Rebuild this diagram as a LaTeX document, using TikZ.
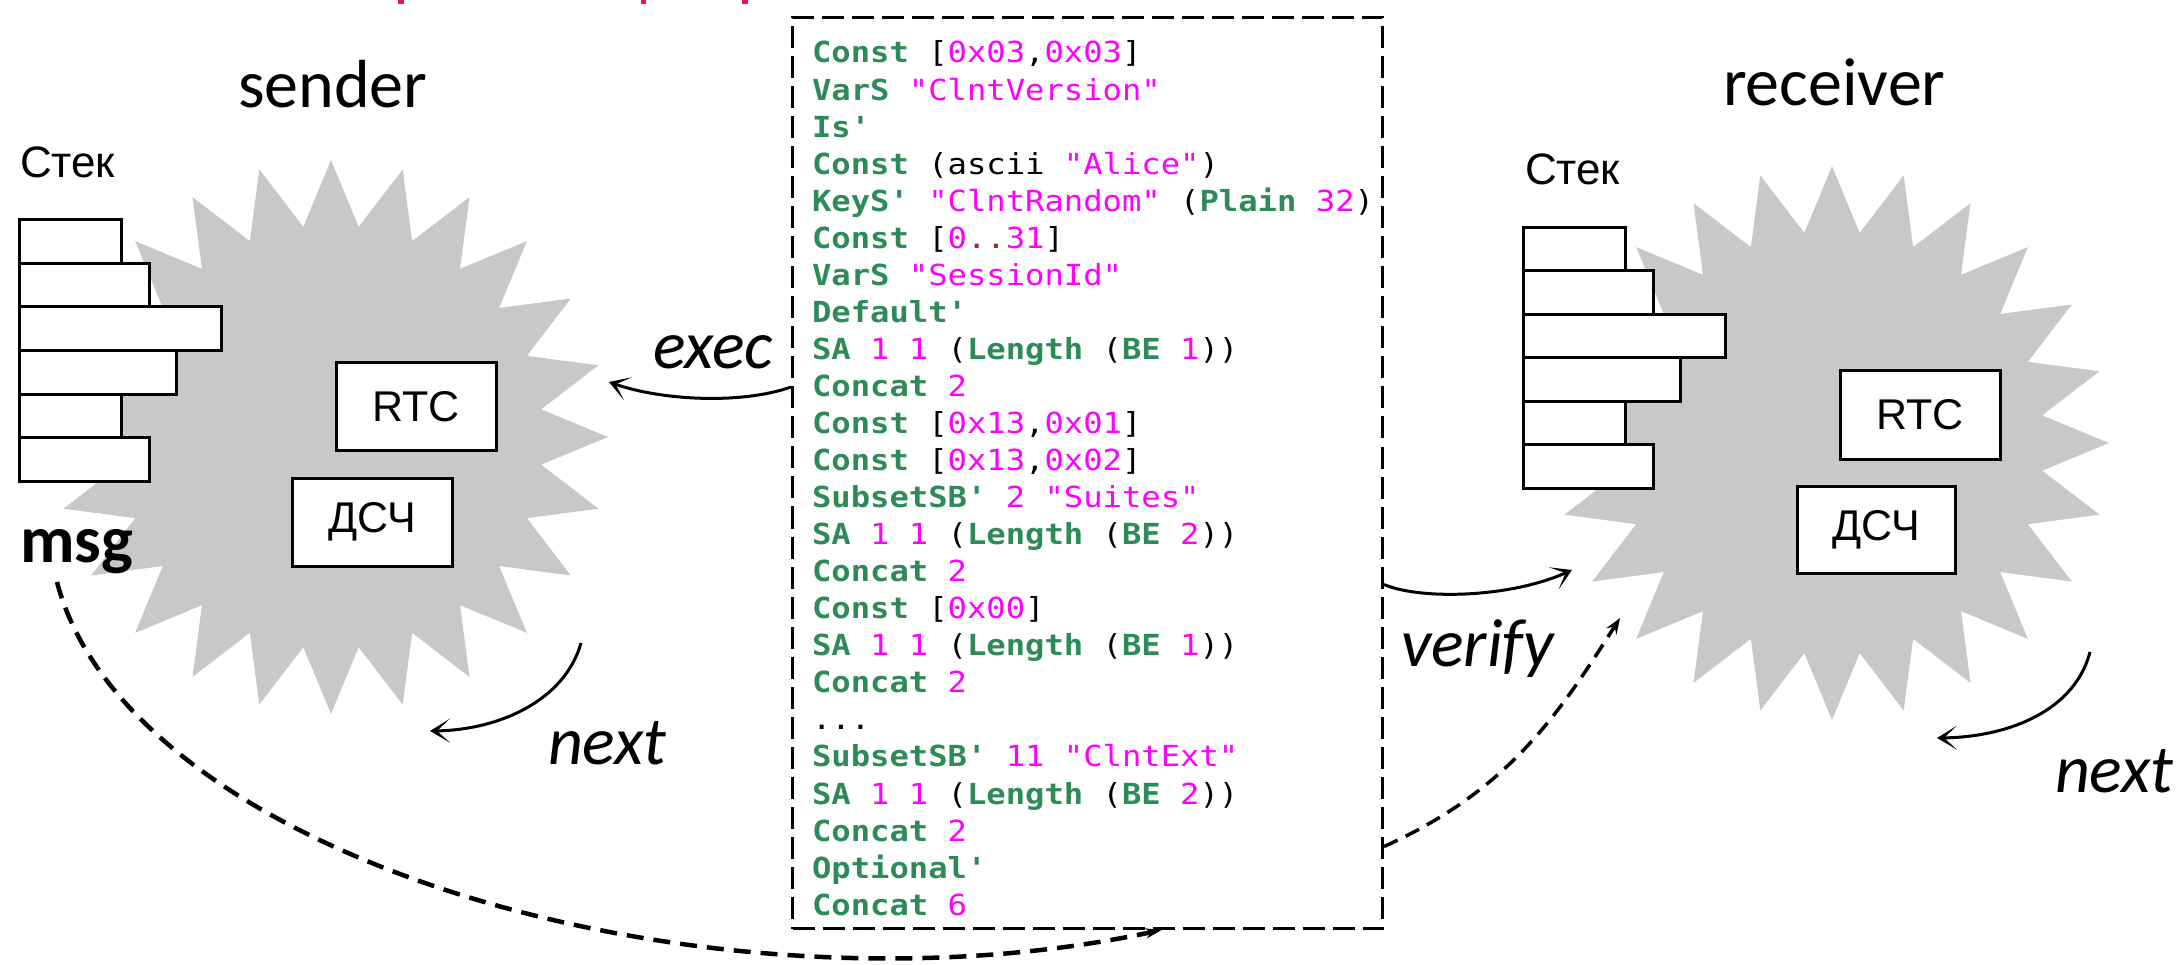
\documentclass[tikz,border=0pt]{standalone}
\usepackage{fontspec}
\setmainfont{Carlito}
\newfontfamily\codefont[FakeStretch=1.11]{DejaVu Sans Mono}
\newfontfamily\labelfont{Liberation Sans}
\usetikzlibrary{arrows.meta,calc}

\definecolor{kwgreen}{RGB}{46,139,87}
\definecolor{numpink}{RGB}{255,0,255}
\definecolor{dotred}{RGB}{165,42,42}
\definecolor{burstgray}{RGB}{200,200,200}
\definecolor{crimsonmark}{RGB}{226,20,92}

% syntax colouring of the listing
\newcommand\codeKw[1]{\textcolor{kwgreen}{\bfseries #1}}
\newcommand\codeNum[1]{\textcolor{numpink}{#1}}
\newcommand\codeDots[1]{\textcolor{dotred}{#1}}
\newcommand\codeRange{\codeNum{0}\codeDots{..}\codeNum{31}}
\newcommand\codeEllipsis{...}

\tikzset{
  txt/.style={inner sep=0pt, outer sep=0pt, anchor=base west},
  title/.style={txt, font=\fontsize{68}{80}\selectfont},
  verb/.style={txt, font=\fontsize{68}{80}\selectfont\itshape},
  stacklabel/.style={txt, font=\labelfont\fontsize{44}{50}\selectfont},
  unitbox/.style={draw, line width=3pt, fill=white, inner sep=0pt,
    font=\labelfont\fontsize{43}{50}\selectfont},
  stackbar/.style={draw, line width=3pt, fill=white, inner sep=0pt, anchor=north west,
    minimum height=43.7pt},
  codeline/.style={txt, font=\codefont\fontsize{29}{37}\selectfont},
  codebox/.style={draw, line width=3pt, dash pattern=on 22pt off 8pt, inner sep=0pt,
    anchor=north west, minimum width=590pt, minimum height=911pt},
  arr/.style={line width=3pt, -{Stealth[length=20pt,width=24pt,inset=13pt]}},
  dasharr/.style={line width=3.5pt, dash pattern=on 15pt off 9pt,
    -{Stealth[length=16pt,width=12pt,inset=6pt]}},
  bigarc/.style={line width=4.5pt, dash pattern=on 17pt off 10pt,
    -{Stealth[length=16pt,width=10pt,inset=5pt]}},
}

\begin{document}
\begin{tikzpicture}[x=1pt,y=-1pt]
\useasboundingbox (0,0) rectangle (2180,965);

% descenders of the heading above the frame
\fill[crimsonmark] (398,0) rectangle (404,4);
\fill[crimsonmark] (641,0) rectangle (646,4);
\fill[crimsonmark] (742,0) rectangle (748,4);

% the two machines
\fill[burstgray] plot[domain=0:47, samples=48, variable=\k]
  ({331+(244.5+32.5*cos(\k*180))*cos(\k*7.5)}, {437+(244.5+32.5*cos(\k*180))*sin(\k*7.5)}) -- cycle;
\fill[burstgray] plot[domain=0:47, samples=48, variable=\k]
  ({1832+(244.5+32.5*cos(\k*180))*cos(\k*7.5)}, {443+(244.5+32.5*cos(\k*180))*sin(\k*7.5)}) -- cycle;

\node[title] (sender) at (238,108) {sender};
\node[title] (receiver) at (1723,106) {receiver};

% stacks
\node[stacklabel] (sstack) at (20,178) {Стек};
\node[stacklabel] (rstack) at (1525,185) {Стек};
\foreach \w [count=\i from 0] in {102,130,202,157,102,130} {
  \node[stackbar, minimum width=\w pt] (sbar\i) at (18,{218+43.7*\i}) {};
  \node[stackbar, minimum width=\w pt] (rbar\i) at (1522,{226+43.4*\i}) {};
}

% clock and random number generator
\node[unitbox, minimum width=160pt, minimum height=88pt] (srtc) at (416,407) {RTC};
\node[unitbox, minimum width=160pt, minimum height=88pt] (srng) at (372,522) {ДСЧ};
\node[unitbox, minimum width=160pt, minimum height=89pt] (rrtc) at (1920,415) {RTC};
\node[unitbox, minimum width=158pt, minimum height=87pt] (rrng) at (1876,530) {ДСЧ};

\node[txt, font=\fontsize{67}{80}\selectfont\bfseries] (msg) at (20,562) {msg};

% the message description
\node[codebox] (code) at (791,16) {};
\foreach \t [count=\i from 0] in {
  {\codeKw{Const} [\codeNum{0x03},\codeNum{0x03}]},
  {\codeKw{VarS} \codeNum{"ClntVersion"}},
  {\codeKw{Is'}},
  {\codeKw{Const} (ascii \codeNum{"Alice"})},
  {\codeKw{KeyS'} \codeNum{"ClntRandom"} (\codeKw{Plain} \codeNum{32})},
  {\codeKw{Const} [\codeRange]},
  {\codeKw{VarS} \codeNum{"SessionId"}},
  {\codeKw{Default'}},
  {\codeKw{SA} \codeNum{1} \codeNum{1} (\codeKw{Length} (\codeKw{BE} \codeNum{1}))},
  {\codeKw{Concat} \codeNum{2}},
  {\codeKw{Const} [\codeNum{0x13},\codeNum{0x01}]},
  {\codeKw{Const} [\codeNum{0x13},\codeNum{0x02}]},
  {\codeKw{SubsetSB'} \codeNum{2} \codeNum{"Suites"}},
  {\codeKw{SA} \codeNum{1} \codeNum{1} (\codeKw{Length} (\codeKw{BE} \codeNum{2}))},
  {\codeKw{Concat} \codeNum{2}},
  {\codeKw{Const} [\codeNum{0x00}]},
  {\codeKw{SA} \codeNum{1} \codeNum{1} (\codeKw{Length} (\codeKw{BE} \codeNum{1}))},
  {\codeKw{Concat} \codeNum{2}},
  {\codeEllipsis},
  {\codeKw{SubsetSB'} \codeNum{11} \codeNum{"ClntExt"}},
  {\codeKw{SA} \codeNum{1} \codeNum{1} (\codeKw{Length} (\codeKw{BE} \codeNum{2}))},
  {\codeKw{Concat} \codeNum{2}},
  {\codeKw{Optional'}},
  {\codeKw{Concat} \codeNum{6}}} {
  \node[codeline] (cl\i) at (812,{63+37.05*\i}) {\t};
}

% labels of the transitions
\node[verb] (exec) at (653,369) {exec};
\node[verb] (snext) at (548,764) {next};
\node[verb] (verify) at (1401,666) {verify};
\node[verb] (rnext) at (2055,792) {next};

% end points of the transitions
\coordinate (execTip) at (609,382);
\coordinate (snextFrom) at (581,643);
\coordinate (snextTip) at (430,731);
\coordinate (rnextFrom) at (2090,652);
\coordinate (rnextTip) at (1937,738);
\coordinate (verifyTip) at (1572,570);
\coordinate (checkTip) at (1620,618);
\coordinate (msgOut) at (57,582);

\draw[arr] ([yshift=86pt]code.west) .. controls (740,405) and (660,400) .. (execTip);
\draw[arr] (snextFrom) .. controls (565,700) and (500,730) .. (snextTip);
\draw[arr] (rnextFrom) .. controls (2075,710) and (2010,737) .. (rnextTip);
\draw[arr] ([yshift=-111.5pt]code.east) .. controls (1420,600) and (1510,598) .. (verifyTip);
\draw[dasharr] ([yshift=-373.5pt]code.east) .. controls (1510,790) and (1560,712) .. (checkTip);
\draw[bigarc] (msgOut) .. controls (130,860) and (710,1026) .. ($(code.south west)!0.625!(code.south east)$);
\end{tikzpicture}
\end{document}
